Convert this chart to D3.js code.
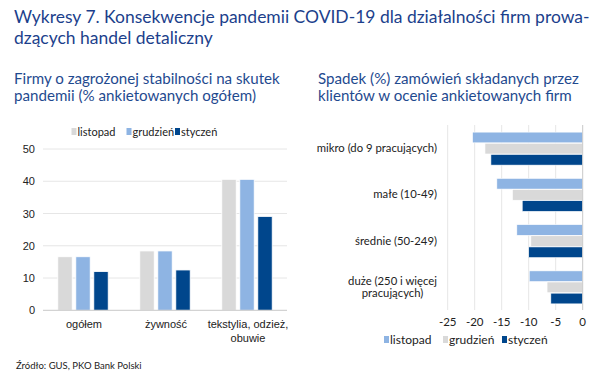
<!DOCTYPE html>
<html><head><meta charset="utf-8">
<script src="https://cdn.jsdelivr.net/npm/d3@7"></script>
<style>body{margin:0;background:#fff}svg{display:block}</style>
</head><body>
<svg id="c" width="604" height="390"></svg>
<script>
const series = ["listopad","grudzień","styczeń"];
const leftCategories = [["ogółem"],["żywność"],["tekstylia, odzież,","obuwie"]];
const leftListopad = [16.6, 18.4, 40.6];
const leftGrudzien = [16.6, 18.4, 40.6];
const leftStyczen  = [12.0, 12.5, 29.1];
const leftTicks = [0,10,20,30,40,50];

const rightCategories = [["mikro (do 9 pracujących)"],["małe (10-49)"],["średnie (50-249)"],["duże (250 i więcej","pracujących)"]];
const rightListopad = [-20.4, -15.9, -12.2, -9.9];
const rightGrudzien = [-18.1, -13.0, -9.6, -6.6];
const rightStyczen  = [-17.0, -11.2, -10.0, -5.9];
const rightTicks = [-25,-20,-15,-10,-5,0];

const leftSeriesColors = {"listopad":"#D9D9D9","grudzień":"#8EB4E3","styczeń":"#00468C"};
const rightSeriesColors = {"listopad":"#8EB4E3","grudzień":"#D9D9D9","styczeń":"#00468C"};

const svg = d3.select("#c");
const titleFont = "Lato, 'Noto Sans', sans-serif";
const axisFont = "'Liberation Sans', Arial, sans-serif";

// Main title
const t1 = svg.append("text").attr("x",14).attr("y",23).attr("fill","#1C3F8C")
  .attr("font-family",titleFont).attr("font-size",18).text("Wykresy 7. Konsekwencje pandemii COVID-19 dla działalności firm prowa-");
const w1 = t1.node().getComputedTextLength();
const fs = 18*576/w1;
t1.attr("font-size",fs);
svg.append("text").attr("x",14).attr("y",44).attr("fill","#1C3F8C")
  .attr("font-family",titleFont).attr("font-size",fs).text("dzących handel detaliczny");

function fitText(sel, width){
  const w = sel.node().getComputedTextLength();
  const f = +sel.attr("font-size");
  sel.attr("font-size", f*width/w);
}
// Subtitles
const s1 = svg.append("text").attr("x",14).attr("y",84).attr("fill","#1F4A8F")
  .attr("font-family",titleFont).attr("font-size",15).text("Firmy o zagrożonej stabilności na skutek");
fitText(s1,266);
svg.append("text").attr("x",14).attr("y",101).attr("fill","#1F4A8F")
  .attr("font-family",titleFont).attr("font-size",s1.attr("font-size")).text("pandemii (% ankietowanych ogółem)");
const s2 = svg.append("text").attr("x",318).attr("y",84).attr("fill","#1F4A8F")
  .attr("font-family",titleFont).attr("font-size",15).text("Spadek (%) zamówień składanych przez");
fitText(s2,261);
svg.append("text").attr("x",318).attr("y",101).attr("fill","#1F4A8F")
  .attr("font-family",titleFont).attr("font-size",s2.attr("font-size")).text("klientów w ocenie ankietowanych firm");

// ---------- Left chart ----------
const ly = d3.scaleLinear().domain([0,50]).range([310.3,149]);
const lx = d3.scaleBand().domain(d3.range(leftCategories.length)).range([42,288]).padding(0);
const lx1 = d3.scaleBand().domain(series).range([0,54]).paddingInner(0.2).paddingOuter(0.1);
const leftData = {"listopad":leftListopad,"grudzień":leftGrudzien,"styczeń":leftStyczen};

const lg = svg.append("g");
lg.selectAll("line.grid").data(leftTicks.filter(d=>d>0)).enter().append("line")
  .attr("x1",43).attr("x2",287).attr("y1",d=>ly(d)).attr("y2",d=>ly(d))
  .attr("stroke","#E6E6E6").attr("stroke-width",1);
lg.selectAll("text.tick").data(leftTicks).enter().append("text")
  .attr("x",35).attr("y",d=>ly(d)+4).attr("text-anchor","end")
  .attr("font-family",axisFont).attr("font-size",11).attr("fill","#222").text(d=>d);

leftCategories.forEach((c,i)=>{
  const c0 = lx(i)+lx.bandwidth()/2 - 27;
  series.forEach(s=>{
    const v = leftData[s][i];
    lg.append("rect").attr("x",c0+lx1(s)).attr("width",lx1.bandwidth())
      .attr("y",ly(v)).attr("height",ly(0)-ly(v))
      .attr("fill",leftSeriesColors[s]).attr("stroke","#fff").attr("stroke-width",0.8);
  });
  c.forEach((line,j)=>{
    lg.append("text").attr("x",lx(i)+lx.bandwidth()/2+1).attr("y",328+j*14)
      .attr("text-anchor","middle").attr("font-family",axisFont).attr("font-size",11)
      .attr("fill","#222").text(line);
  });
});
lg.append("line").attr("x1",43).attr("x2",287).attr("y1",ly(0)).attr("y2",ly(0))
  .attr("stroke","#C8C8C8").attr("stroke-width",1);

// left legend
const leftLegendX = [71.5,126.5,175];
series.forEach((s,i)=>{
  lg.append("rect").attr("x",leftLegendX[i]).attr("y",128).attr("width",5).attr("height",7)
    .attr("fill",leftSeriesColors[s]);
  lg.append("text").attr("x",leftLegendX[i]+6).attr("y",135.5).attr("font-family",titleFont)
    .attr("font-size",11).attr("fill","#222").text(s);
});

// ---------- Right chart ----------
const rx = d3.scaleLinear().domain([-25,0]).range([447.7,582.7]);
const ry = d3.scaleBand().domain(d3.range(rightCategories.length)).range([125,310]).padding(0);
const ry1 = d3.scaleBand().domain(series).range([0,33]).paddingInner(0.04);
const rightData = {"listopad":rightListopad,"grudzień":rightGrudzien,"styczeń":rightStyczen};

const rg = svg.append("g");
rg.selectAll("line.grid").data(rightTicks.filter(d=>d<0)).enter().append("line")
  .attr("x1",d=>rx(d)).attr("x2",d=>rx(d)).attr("y1",125).attr("y2",310)
  .attr("stroke","#E6E6E6").attr("stroke-width",1);
rg.selectAll("text.tick").data(rightTicks).enter().append("text")
  .attr("x",d=>rx(d)).attr("y",326).attr("text-anchor","middle")
  .attr("font-family",titleFont).attr("font-size",11.5).attr("fill","#222").text(d=>d);

rightCategories.forEach((c,i)=>{
  const c0 = ry(i)+ry.bandwidth()/2 - 16.5 + 0.5;
  series.forEach(s=>{
    const v = rightData[s][i];
    rg.append("rect").attr("y",c0+ry1(s)).attr("height",ry1.bandwidth())
      .attr("x",rx(v)).attr("width",rx(0)-rx(v))
      .attr("fill",rightSeriesColors[s]).attr("stroke","#fff").attr("stroke-width",0.6);
  });
  const cy = ry(i)+ry.bandwidth()/2;
  const texts = c.map((line,j)=>rg.append("text").attr("y",cy+4+(j-(c.length-1)/2)*12.5)
      .attr("font-family",titleFont).attr("font-size",11.3).attr("fill","#222").text(line));
  const mw = d3.max(texts,t=>t.node().getComputedTextLength());
  texts.forEach(t=>t.attr("x",437-mw/2).attr("text-anchor","middle"));
});
rg.append("line").attr("x1",rx(0)).attr("x2",rx(0)).attr("y1",125).attr("y2",310)
  .attr("stroke","#C8C8C8").attr("stroke-width",1);

// right legend
const rightLegendX = [384,443,502];
series.forEach((s,i)=>{
  rg.append("rect").attr("x",rightLegendX[i]).attr("y",336).attr("width",5).attr("height",7)
    .attr("fill",rightSeriesColors[s]);
  rg.append("text").attr("x",rightLegendX[i]+6).attr("y",343.5).attr("font-family",titleFont)
    .attr("font-size",12).attr("fill","#222").text(s);
});

// Source
svg.append("text").attr("x",16).attr("y",369).attr("font-family",titleFont)
  .attr("font-size",9.5).attr("fill","#222").text("Źródło: GUS, PKO Bank Polski");
</script>
</body></html>
